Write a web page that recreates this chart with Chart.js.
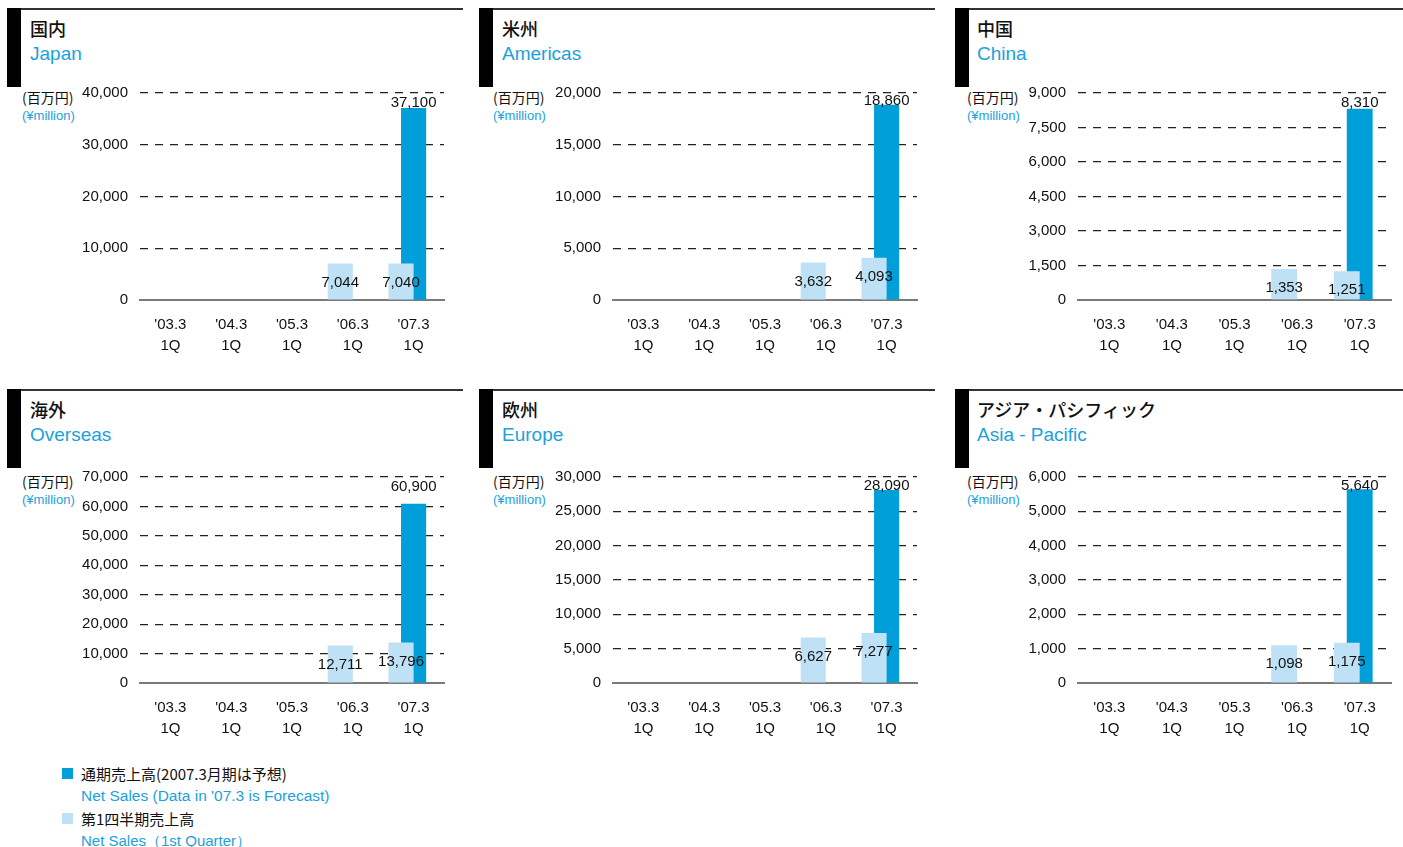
<!DOCTYPE html>
<html lang="ja">
<head>
<meta charset="utf-8">
<title>地域別売上高 Net Sales by Region</title>
<script src="https://cdn.jsdelivr.net/npm/chart.js"></script>
<style>
  body { margin: 0; background: #fff; }
  #page { position: relative; width: 1403px; height: 847px; overflow: hidden;
          font-family: "Liberation Sans", Arial, sans-serif; }
  .rule { position: absolute; height: 2px; background: #333; }
  .tab { position: absolute; width: 14px; background: #000; }
  .txt { position: absolute; white-space: nowrap; }
  .ja { font-family: "Noto Sans CJK JP", sans-serif; color: #111; }
  .en { color: #1ba1dc; }
  .swatch { position: absolute; width: 11px; height: 11px; }
  canvas { position: absolute; }
</style>
</head>
<body>
<div id="page"></div>
<script>
// categories and values (百万円 / ¥million)
const categories = ["'03.3", "'04.3", "'05.3", "'06.3", "'07.3"];
const quarterLabel = "1Q";
const regionJa = ["国内", "米州", "中国", "海外", "欧州", "アジア・パシフィック"];
const regionEn = ["Japan", "Americas", "China", "Overseas", "Europe", "Asia - Pacific"];

// 第1四半期売上高 Net Sales (1st Quarter)
const firstQuarterJapan = [null, null, null, 7044, 7040];
const firstQuarterAmericas = [null, null, null, 3632, 4093];
const firstQuarterChina = [null, null, null, 1353, 1251];
const firstQuarterOverseas = [null, null, null, 12711, 13796];
const firstQuarterEurope = [null, null, null, 6627, 7277];
const firstQuarterAsia = [null, null, null, 1098, 1175];

// 通期売上高 Net Sales (2007.3 is forecast)
const netSalesJapan = [null, null, null, null, 37100];
const netSalesAmericas = [null, null, null, null, 18860];
const netSalesChina = [null, null, null, null, 8310];
const netSalesOverseas = [null, null, null, null, 60900];
const netSalesEurope = [null, null, null, null, 28090];
const netSalesAsia = [null, null, null, null, 5640];

const axisMax = [40000, 20000, 9000, 70000, 30000, 6000];
const axisStep = [10000, 5000, 1500, 10000, 5000, 1000];

const firstQuarter = [firstQuarterJapan, firstQuarterAmericas, firstQuarterChina,
                      firstQuarterOverseas, firstQuarterEurope, firstQuarterAsia];
const netSales = [netSalesJapan, netSalesAmericas, netSalesChina,
                  netSalesOverseas, netSalesEurope, netSalesAsia];

const DARK = "#009fda";
const LIGHT = "#bfe1f5";
const FONT = '"Liberation Sans", Arial, sans-serif';

// page layout
const columns = [
  { left: 7, title: 30, unit: 22, plotL: 140, plotR: 444, ruleR: 463 },
  { left: 479, title: 502, unit: 493, plotL: 613, plotR: 917, ruleR: 935 },
  { left: 955, title: 977, unit: 967, plotL: 1078, plotR: 1391, ruleR: 1403 }
];
const rows = [
  { top: 8, plotT: 93, plotB: 300 },
  { top: 389, plotT: 477, plotB: 683 }
];

const page = document.getElementById("page");

const addBox = (cls, x, y, w, h, color) => {
  const el = document.createElement("div");
  el.className = cls;
  el.style.left = x + "px";
  el.style.top = y + "px";
  if (w != null) el.style.width = w + "px";
  if (h != null) el.style.height = h + "px";
  if (color) el.style.background = color;
  page.appendChild(el);
  return el;
};

// text placed by its vertical centre
const addText = (text, x, cy, cls, size) => {
  const el = document.createElement("div");
  const lh = Math.round(size * 1.4);
  el.className = "txt " + cls;
  el.textContent = text;
  el.style.fontSize = size + "px";
  el.style.lineHeight = lh + "px";
  el.style.left = x + "px";
  el.style.top = (cy - lh / 2) + "px";
  page.appendChild(el);
  return el;
};

const valueLabels = {
  id: "valueLabels",
  afterDatasetsDraw(chart) {
    const { ctx, chartArea } = chart;
    ctx.save();
    ctx.font = "15px " + FONT;
    ctx.fillStyle = "#111";
    ctx.textAlign = "center";
    ctx.textBaseline = "middle";
    [0, 1].forEach((di) => {
      const meta = chart.getDatasetMeta(di);
      meta.data.forEach((bar, j) => {
        const v = chart.data.datasets[di].data[j];
        if (v == null) return;
        const y = di === 0 ? bar.y + 19 : Math.min(bar.y - 4, chartArea.top + 10);
        ctx.fillText(v.toLocaleString("en-US"), bar.x, y);
      });
    });
    ctx.restore();
  }
};

const renderPanel = (i) => {
  const col = columns[i % 3];
  const row = rows[Math.floor(i / 3)];

  addBox("rule", col.left, row.top, col.ruleR - col.left, 2);
  addBox("tab", col.left, row.top, null, 79);
  addText(regionJa[i], col.title, row.top + 20, "ja", 18).style.fontWeight = "500";
  addText(regionEn[i], col.title, row.top + 45, "en", 19);
  addText("(百万円)", col.unit, row.plotT + 4, "ja", 14);
  addText("(¥million)", col.unit, row.plotT + 23, "en", 13);

  const padL = 70, padT = 15, padR = 6, padB = 60;
  const plotW = col.plotR - col.plotL;
  const plotH = row.plotB - row.plotT;
  const canvas = document.createElement("canvas");
  const w = plotW + padL + padR;
  const h = plotH + padT + padB;
  canvas.width = w;
  canvas.height = h;
  canvas.style.width = w + "px";
  canvas.style.height = h + "px";
  page.appendChild(canvas);

  const chart = new Chart(canvas, {
    type: "bar",
    data: {
      labels: categories.map((c) => [c, quarterLabel]),
      datasets: [
        { label: "第1四半期売上高", data: firstQuarter[i], backgroundColor: LIGHT, order: 0 },
        { label: "通期売上高", data: netSales[i], backgroundColor: DARK, order: 1 },
        // empty third slot so the full-year bar sits on the category centre
        { label: "", data: categories.map(() => null), backgroundColor: "rgba(0,0,0,0)", order: 2 }
      ]
    },
    options: {
      responsive: false,
      maintainAspectRatio: false,
      animation: false,
      layout: { padding: { left: 0, top: padT, right: padR, bottom: 0 } },
      datasets: { bar: { categoryPercentage: 0.62, barPercentage: 2.0 } },
      plugins: { legend: { display: false }, tooltip: { enabled: false } },
      scales: {
        x: {
          grid: { display: false },
          border: { display: true, color: "#7a7a7a", width: 2 },
          ticks: {
            color: "#111",
            font: { family: FONT, size: 15, lineHeight: 1.4 },
            padding: 6,
            maxRotation: 0,
            autoSkip: false
          },
          afterFit: (s) => { s.height = padB; }
        },
        y: {
          min: 0,
          max: axisMax[i],
          ticks: {
            stepSize: axisStep[i],
            color: "#111",
            font: { family: FONT, size: 15 },
            padding: 12,
            callback: (v) => v.toLocaleString("en-US")
          },
          grid: {
            color: (ctx) => (ctx.tick && ctx.tick.value === 0 ? "rgba(0,0,0,0)" : "#222"),
            lineWidth: 1.2,
            drawTicks: false
          },
          border: { display: false, dash: [8, 7] },
          afterFit: (s) => { s.width = padL; }
        }
      }
    },
    plugins: [valueLabels]
  });

  // grow the canvas so the plot area gets the wanted size, then place it
  const a = chart.chartArea;
  const nw = w + plotW - (a.right - a.left);
  const nh = h + plotH - (a.bottom - a.top);
  if (nw !== w || nh !== h) chart.resize(nw, nh);
  const b = chart.chartArea;
  canvas.style.left = (col.plotL - b.left) + "px";
  canvas.style.top = (row.plotT - b.top) + "px";
};

for (let i = 0; i < 6; i++) renderPanel(i);

// shared legend
addBox("swatch", 62, 768, null, null, DARK);
addText("通期売上高(2007.3月期は予想)", 81, 773, "ja", 15);
addText("Net Sales (Data in '07.3 is Forecast)", 81, 796, "en", 15.5);
addBox("swatch", 62, 813, null, null, LIGHT);
addText("第1四半期売上高", 81, 818, "ja", 15);
addText("Net Sales（1st Quarter）", 81, 840, "en", 15);
</script>
</body>
</html>
